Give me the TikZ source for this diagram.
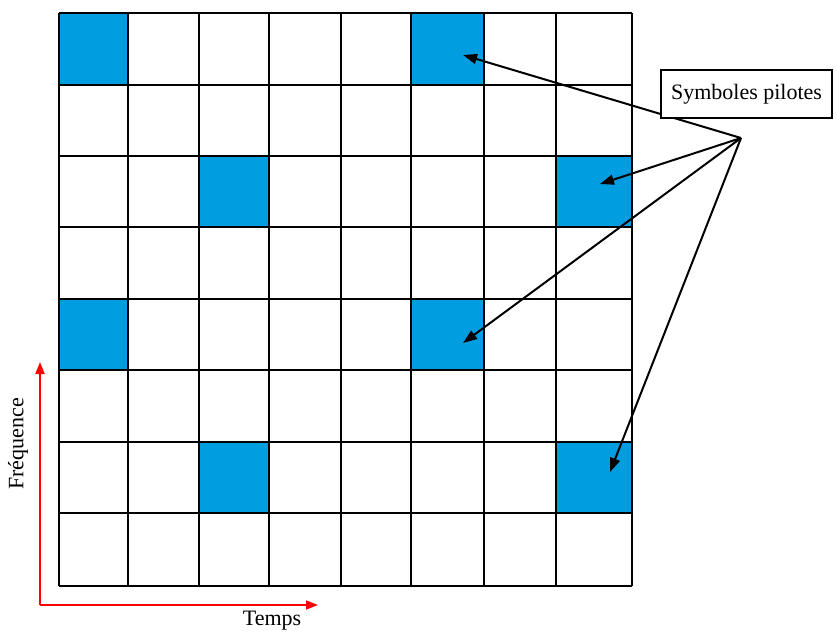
\documentclass[tikz,border=0pt]{standalone}
\usepackage{fontspec}
\setmainfont{Liberation Serif}
\usetikzlibrary{arrows.meta}
\definecolor{pilot}{RGB}{0,158,224}
\begin{document}
\begin{tikzpicture}[x=1pt,y=-1pt,
  gridline/.style={line width=2.3pt, black},
  pilotcell/.style={fill=pilot, draw=none, inner sep=0pt, anchor=north west},
  pointer/.style={line width=2pt, black, -{Triangle[length=14pt,width=10pt]}},
  axis/.style={line width=1.8pt, red, -{Triangle[length=12pt,width=9pt]}},
  lbl/.style={font=\fontsize{22}{26}\selectfont, text=black},
  labelbox/.style={draw=black, line width=1.6pt, fill=white, minimum width=171pt, minimum height=48pt, inner sep=0pt}]
\useasboundingbox (0,0) rectangle (837,633);
% pilot cells
\node[pilotcell, minimum width=69pt, minimum height=72pt] (c00) at (59,13) {};
\node[pilotcell, minimum width=73pt, minimum height=72pt] (c05) at (411,13) {};
\node[pilotcell, minimum width=70pt, minimum height=71pt] (c22) at (199,156) {};
\node[pilotcell, minimum width=76pt, minimum height=71pt] (c27) at (556,156) {};
\node[pilotcell, minimum width=69pt, minimum height=71pt] (c40) at (59,299) {};
\node[pilotcell, minimum width=73pt, minimum height=71pt] (c45) at (411,299) {};
\node[pilotcell, minimum width=70pt, minimum height=71pt] (c62) at (199,442) {};
\node[pilotcell, minimum width=76pt, minimum height=71pt] (c67) at (556,442) {};
% grid
\foreach \x in {59,128,199,269,341,411,484,556,632}
  \draw[gridline] (\x,13) -- (\x,586);
\foreach \y in {13,85,156,227,299,370,442,513,586}
  \draw[gridline] (59,\y) -- (632,\y);
% pointers
\coordinate (hub) at (741,138);
\coordinate (t1) at (463,55);
\coordinate (t2) at (600,184);
\coordinate (t3) at (463,343);
\coordinate (t4) at (610,472);
\draw[pointer] (hub) -- (t1);
\draw[pointer] (hub) -- (t2);
\draw[pointer] (hub) -- (t3);
\draw[pointer] (hub) -- (t4);
\node[labelbox, lbl] (box) at (746.5,94) {Symboles pilotes};
% axes
\coordinate (origin) at (40,605);
\coordinate (ftop) at (40,362);
\coordinate (tend) at (318,605);
\draw[axis] (origin) -- (ftop);
\draw[axis] (origin) -- (tend);
\node[lbl, rotate=90] (freq) at (18,444) {Fréquence};
\node[lbl] (temps) at (272,621) {Temps};
\end{tikzpicture}
\end{document}
